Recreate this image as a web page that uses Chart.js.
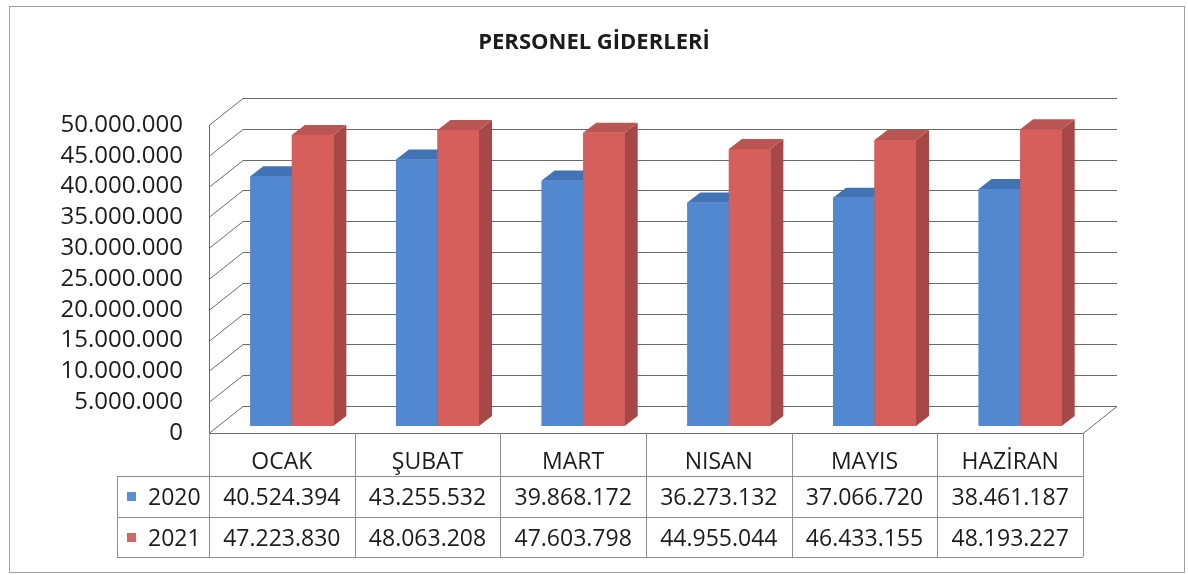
<!DOCTYPE html>
<html>
<head>
<meta charset="utf-8">
<script src="https://cdn.jsdelivr.net/npm/chart.js@4.4.1/dist/chart.umd.min.js"></script>
<style>
  html, body { margin: 0; padding: 0; background: #fff; }
</style>
</head>
<body>
<canvas id="chart" width="1188" height="575"></canvas>
<script>
const categories = ['OCAK', 'ŞUBAT', 'MART', 'NISAN', 'MAYIS', 'HAZİRAN'];
const seriesNames = ['2020', '2021'];
const values2020 = [40524394, 43255532, 39868172, 36273132, 37066720, 38461187];
const values2021 = [47223830, 48063208, 47603798, 44955044, 46433155, 48193227];
const yMax = 50000000;
const yStep = 5000000;

const FONT = "'Open Sans', sans-serif";
const TEXT = '#1c1c1c';
const GRID = '#6a6a6a';
const TABLE_LINE = '#8e8e8e';

// 3d look: floor depth, bar position inside it, bar thickness
const DEPTH = { dx: 34, dy: -27 };
const BAR_SHIFT = { dx: 10, dy: -7 };
const BAR_DEPTH = { dx: 13, dy: -10 };

const faces = [
  { front: '#5288d0', top: '#4173b5', side: '#3b66a2', key: '#5b8fd6' },
  { front: '#d65f5c', top: '#b95653', side: '#a74846', key: '#d66562' }
];

function fmt(v) {
  return String(v).replace(/\B(?=(\d{3})+(?!\d))/g, '.');
}

function poly(ctx, pts, color) {
  ctx.beginPath();
  ctx.moveTo(pts[0][0], pts[0][1]);
  for (let i = 1; i < pts.length; i++) ctx.lineTo(pts[i][0], pts[i][1]);
  ctx.closePath();
  ctx.fillStyle = color;
  ctx.fill();
}

const box3d = {
  id: 'box3d',
  beforeDatasetsDraw(chart) {
    const { ctx, chartArea: a, scales: { y } } = chart;
    ctx.save();
    ctx.strokeStyle = GRID;
    ctx.lineWidth = 1;
    ctx.beginPath();
    y.ticks.forEach(t => {
      const py = Math.round(y.getPixelForValue(t.value)) + 0.5;
      ctx.moveTo(a.left, py);
      ctx.lineTo(a.left + DEPTH.dx, py + DEPTH.dy);
      ctx.lineTo(a.right + DEPTH.dx, py + DEPTH.dy);
    });
    ctx.moveTo(a.left + 0.5, a.top);
    ctx.lineTo(a.left + 0.5, a.bottom);
    ctx.moveTo(a.left, a.bottom + 0.5);
    ctx.lineTo(a.right, a.bottom + 0.5);
    ctx.lineTo(a.right + DEPTH.dx, a.bottom + 0.5 + DEPTH.dy);
    ctx.stroke();
    ctx.restore();

    ctx.save();
    ctx.translate(BAR_SHIFT.dx, BAR_SHIFT.dy);
  },
  afterDatasetsDraw(chart) {
    const { ctx } = chart;
    const metas = chart.getSortedVisibleDatasetMetas();
    categories.forEach((c, i) => {
      metas.forEach((meta, j) => {
        const bar = meta.data[i];
        const f = faces[j];
        bar.draw(ctx);
        const l = bar.x - bar.width / 2;
        const r = bar.x + bar.width / 2;
        const t = bar.y;
        const b = bar.base;
        const dx = BAR_DEPTH.dx, dy = BAR_DEPTH.dy;
        poly(ctx, [[r, t], [r + dx, t + dy], [r + dx, b + dy], [r, b]], f.side);
        poly(ctx, [[l, t], [l + dx, t + dy], [r + dx, t + dy], [r, t]], f.top);
      });
    });
    ctx.restore();
  }
};

const dataTable = {
  id: 'dataTable',
  afterDraw(chart) {
    const { ctx, chartArea: a, scales: { x } } = chart;
    const rows = [values2020, values2021];
    const colW = (a.right - a.left) / categories.length;
    const rowLines = [a.bottom, 476, 517, 557];
    const keyLeft = 117;

    ctx.save();
    ctx.strokeStyle = TABLE_LINE;
    ctx.lineWidth = 1;
    ctx.beginPath();
    for (let k = 0; k <= categories.length; k++) {
      const px = Math.round(a.left + k * colW) + 0.5;
      ctx.moveTo(px, a.bottom);
      ctx.lineTo(px, rowLines[3]);
    }
    ctx.moveTo(keyLeft + 0.5, rowLines[1]);
    ctx.lineTo(keyLeft + 0.5, rowLines[3]);
    [1, 2, 3].forEach(k => {
      ctx.moveTo(keyLeft, rowLines[k] + 0.5);
      ctx.lineTo(a.right, rowLines[k] + 0.5);
    });
    ctx.stroke();

    ctx.font = '23px ' + FONT;
    ctx.textBaseline = 'alphabetic';
    rows.forEach((vals, r) => {
      const base = rowLines[r + 1] + 29;
      ctx.textAlign = 'center';
      ctx.fillStyle = TEXT;
      vals.forEach((v, i) => {
        ctx.fillText(fmt(v), x.getPixelForValue(i), base);
      });
      ctx.fillStyle = faces[r].key;
      ctx.fillRect(keyLeft + 10, base - 13, 9, 9);
      ctx.fillStyle = TEXT;
      ctx.textAlign = 'left';
      ctx.fillText(seriesNames[r], keyLeft + 31, base);
    });

    // outer frame of the picture
    ctx.strokeStyle = '#a0a0a0';
    ctx.strokeRect(9.5, 6.5, 1175, 566);
    ctx.restore();
  }
};

new Chart(document.getElementById('chart'), {
  type: 'bar',
  data: {
    labels: categories,
    datasets: [
      { label: seriesNames[0], data: values2020, backgroundColor: faces[0].front },
      { label: seriesNames[1], data: values2021, backgroundColor: faces[1].front }
    ]
  },
  options: {
    responsive: false,
    animation: false,
    devicePixelRatio: 1,
    categoryPercentage: 0.57,
    barPercentage: 1,
    layout: { padding: 0 },
    plugins: {
      legend: { display: false },
      tooltip: { enabled: false },
      title: {
        display: true,
        text: 'PERSONEL GİDERLERİ',
        color: TEXT,
        font: { family: FONT, size: 22, weight: 'bold' },
        padding: { top: 30, bottom: 68.6 }
      }
    },
    scales: {
      x: {
        grid: { display: false, drawTicks: false },
        border: { display: false },
        ticks: { color: TEXT, font: { family: FONT, size: 23 }, padding: 16 },
        afterFit(scale) { scale.height = 142; }
      },
      y: {
        min: 0,
        max: yMax,
        grid: { display: false, drawTicks: false },
        border: { display: false },
        ticks: {
          stepSize: yStep,
          autoSkip: false,
          color: TEXT,
          font: { family: FONT, size: 24 },
          padding: 26,
          callback: v => fmt(v)
        },
        afterFit(scale) { scale.width = 209; }
      },
      // empty space on the right, where the 3d walls stick out
      yRight: {
        position: 'right',
        grid: { display: false, drawTicks: false },
        border: { display: false },
        ticks: { display: false },
        afterFit(scale) { scale.width = 105; }
      }
    }
  },
  plugins: [box3d, dataTable]
});
</script>
</body>
</html>
